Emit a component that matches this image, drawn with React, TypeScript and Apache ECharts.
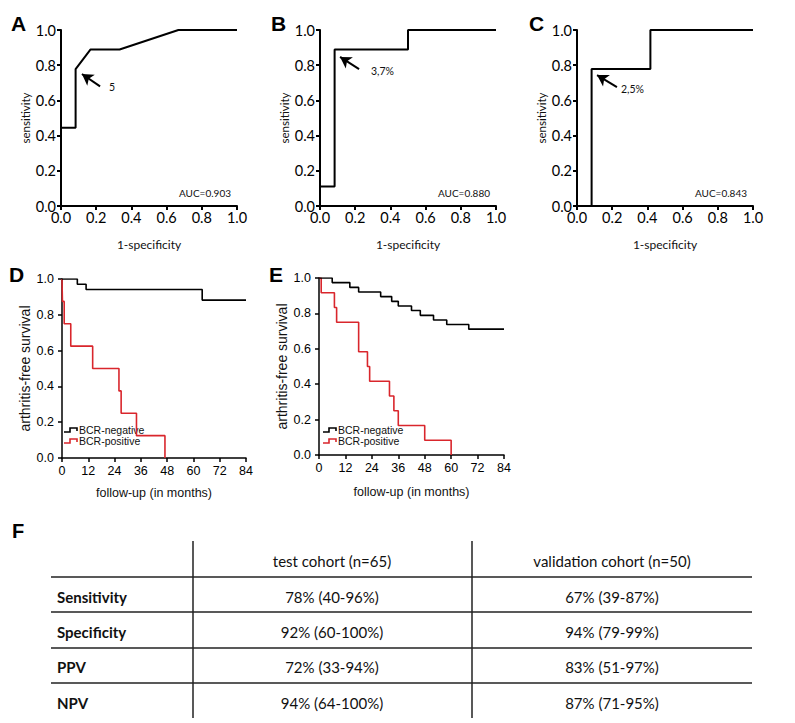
import React, { useEffect, useRef } from "react";
import * as echarts from "echarts";

// ROC curves (1-specificity, sensitivity)
const rocA_fpr = [0, 0, 0.083, 0.083, 0.167, 0.333, 0.667, 1];
const rocA_tpr = [0, 0.444, 0.444, 0.778, 0.889, 0.889, 1, 1];
const rocB_fpr = [0, 0, 0.083, 0.083, 0.5, 0.5, 1];
const rocB_tpr = [0, 0.111, 0.111, 0.889, 0.889, 1, 1];
const rocC_fpr = [0, 0.083, 0.083, 0.417, 0.417, 1];
const rocC_tpr = [0, 0, 0.778, 0.778, 1, 1];
const rocTicks = [0, 0.2, 0.4, 0.6, 0.8, 1.0];
const aucLabels = ["AUC=0.903", "AUC=0.880", "AUC=0.843"];
const cutoffLabels = ["5", "3,7%", "2,5%"];

// Kaplan-Meier curves (months, arthritis-free survival)
const negTimesD = [7, 11, 64];
const negSurvD = [0.971, 0.941, 0.882];
const posTimesD = [0.2, 1, 4, 14, 26, 27, 34, 47];
const posSurvD = [0.875, 0.75, 0.625, 0.5, 0.375, 0.25, 0.125, 0];
const negTimesE = [6, 14, 18, 28, 33, 36, 42, 46, 52, 58, 68];
const negSurvE = [0.974, 0.947, 0.921, 0.895, 0.868, 0.842, 0.816, 0.789, 0.763, 0.737, 0.711];
const posTimesE = [1, 7, 8, 18, 22, 23, 32, 34, 36, 48, 60];
const posSurvE = [0.917, 0.833, 0.75, 0.583, 0.5, 0.417, 0.333, 0.25, 0.167, 0.083, 0];
const followUpEnd = 84;
const seriesNames = ["BCR-negative", "BCR-positive"];

// Table F
const tableHeader = ["", "test cohort (n=65)", "validation cohort (n=50)"];
const tableRows = ["Sensitivity", "Specificity", "PPV", "NPV"];
const testCohort = ["78% (40-96%)", "92% (60-100%)", "72% (33-94%)", "94% (64-100%)"];
const validationCohort = ["67% (39-87%)", "94% (79-99%)", "83% (51-97%)", "87% (71-95%)"];

const RED = "#d9262c";
const LATO = "Lato, 'Open Sans', sans-serif";
const ARIAL = "'Liberation Sans', Arial, sans-serif";

function zip(xs: number[], ys: number[]) {
  return xs.map((x, i) => [x, ys[i]]);
}

function km(times: number[], surv: number[], end?: number) {
  const pts: number[][] = [[0, 1]];
  let prev = 1;
  times.forEach((t, i) => {
    pts.push([t, prev]);
    pts.push([t, surv[i]]);
    prev = surv[i];
  });
  if (end !== undefined) pts.push([end, prev]);
  return pts;
}

const rocGrids = [
  { left: 61, top: 30, width: 176, height: 176 },
  { left: 320, top: 30, width: 176, height: 176 },
  { left: 577, top: 30, width: 176, height: 176 },
];
const kmGrids = [
  { left: 62, top: 279, width: 184, height: 179 },
  { left: 319, top: 278, width: 185, height: 177 },
];

export default function App() {
  const ref = useRef<HTMLDivElement>(null);
  useEffect(() => {
    if (!ref.current) return;
    const chart = echarts.init(ref.current, undefined, { renderer: "svg" });

    const rocAxisCommon = {
      min: 0,
      max: 1,
      interval: 0.2,
      axisLine: { show: true, onZero: false, lineStyle: { color: "#000", width: 2 } },
      axisTick: { show: true, length: 4, lineStyle: { color: "#000", width: 2 } },
      splitLine: { show: false },
      axisLabel: {
        color: "#000",
        fontFamily: LATO,
        fontSize: 14.5,
        formatter: (v: number) => v.toFixed(1),
      },
    };
    const kmAxisLine = { show: true, onZero: false, lineStyle: { color: "#000", width: 1.5 } };
    const kmTick = { show: true, length: 4, lineStyle: { color: "#000", width: 1.5 } };

    const grids = [...rocGrids, ...kmGrids].map((g) => ({ ...g, containLabel: false }));

    const xAxes: any[] = [];
    const yAxes: any[] = [];
    for (let i = 0; i < 3; i++) {
      xAxes.push({
        ...rocAxisCommon,
        type: "value",
        gridIndex: i,
        axisLabel: { ...rocAxisCommon.axisLabel, margin: 4 },
        name: "1-specificity",
        nameLocation: "middle",
        nameGap: 32,
        nameTextStyle: { fontFamily: LATO, fontSize: 12, color: "#111" },
      });
      yAxes.push({
        ...rocAxisCommon,
        type: "value",
        gridIndex: i,
        axisLabel: { ...rocAxisCommon.axisLabel, margin: 5 },
        name: "sensitivity",
        nameLocation: "middle",
        nameGap: 28,
        nameTextStyle: { fontFamily: LATO, fontSize: 11.5, color: "#111" },
      });
    }
    for (let i = 0; i < 2; i++) {
      xAxes.push({
        type: "value",
        gridIndex: 3 + i,
        min: 0,
        max: 84,
        interval: 12,
        axisLine: kmAxisLine,
        axisTick: kmTick,
        splitLine: { show: false },
        axisLabel: { color: "#000", fontFamily: ARIAL, fontSize: 12.5, margin: 6 },
        name: "follow-up (in months)",
        nameLocation: "middle",
        nameGap: i === 0 ? 28 : 30,
        nameTextStyle: { fontFamily: ARIAL, fontSize: 12.5, color: "#111" },
      });
      yAxes.push({
        type: "value",
        gridIndex: 3 + i,
        min: 0,
        max: 1,
        interval: 0.2,
        axisLine: kmAxisLine,
        axisTick: kmTick,
        splitLine: { show: false },
        axisLabel: {
          color: "#000",
          fontFamily: ARIAL,
          fontSize: 12.5,
          margin: 8,
          formatter: (v: number) => v.toFixed(1),
        },
        name: "arthritis-free survival",
        nameLocation: "middle",
        nameGap: 30,
        nameTextStyle: { fontFamily: ARIAL, fontSize: 14, color: "#111" },
      });
    }

    const arrows = [
      { from: [0.222, 0.68], to: [0.119, 0.75] },
      { from: [0.222, 0.778], to: [0.114, 0.847] },
      { from: [0.227, 0.676], to: [0.114, 0.744] },
    ];
    const rocData = [zip(rocA_fpr, rocA_tpr), zip(rocB_fpr, rocB_tpr), zip(rocC_fpr, rocC_tpr)];

    const series: any[] = rocData.map((d, i) => ({
      type: "line",
      xAxisIndex: i,
      yAxisIndex: i,
      data: d,
      showSymbol: false,
      lineStyle: { color: "#000", width: 2 },
      itemStyle: { color: "#000" },
      silent: true,
      markLine: {
        silent: true,
        symbol: ["none", "arrow"],
        symbolSize: [10, 11],
        lineStyle: { color: "#000", width: 2, type: "solid" },
        label: { show: false },
        data: [[{ coord: arrows[i].from }, { coord: arrows[i].to }]],
      },
    }));

    const kmSets = [
      { neg: km(negTimesD, negSurvD, followUpEnd), pos: km(posTimesD, posSurvD) },
      { neg: km(negTimesE, negSurvE, followUpEnd), pos: km(posTimesE, posSurvE) },
    ];
    kmSets.forEach((s, i) => {
      series.push({
        type: "line",
        name: seriesNames[0],
        xAxisIndex: 3 + i,
        yAxisIndex: 3 + i,
        data: s.neg,
        showSymbol: false,
        lineStyle: { color: "#000", width: 1.6 },
        itemStyle: { color: "#000" },
        silent: true,
        z: 3,
      });
      series.push({
        type: "line",
        name: seriesNames[1],
        xAxisIndex: 3 + i,
        yAxisIndex: 3 + i,
        data: s.pos,
        showSymbol: false,
        lineStyle: { color: RED, width: 1.6 },
        itemStyle: { color: RED },
        silent: true,
        z: 2,
      });
    });

    const graphic: any[] = [];
    const letter = (t: string, x: number, y: number, size = 21) =>
      graphic.push({
        type: "text",
        x,
        y,
        style: {
          text: t,
          fontFamily: ARIAL,
          fontWeight: "bold",
          fontSize: size,
          fill: "#000",
          textVerticalAlign: "middle",
        },
      });
    letter("A", 11, 23);
    letter("B", 271, 23);
    letter("C", 529, 23);
    letter("D", 9, 274);
    letter("E", 269, 274);
    letter("F", 12, 531, 20);

    // ROC annotations
    const cutoffPos = [
      [109, 87],
      [371, 71],
      [621, 89],
    ];
    cutoffLabels.forEach((t, i) =>
      graphic.push({
        type: "text",
        x: cutoffPos[i][0],
        y: cutoffPos[i][1],
        style: { text: t, fontFamily: LATO, fontSize: 10.5, fill: "#111", textVerticalAlign: "middle" },
      })
    );
    aucLabels.forEach((t, i) =>
      graphic.push({
        type: "text",
        x: rocGrids[i].left + rocGrids[i].width - 6,
        y: 193,
        style: {
          text: t,
          fontFamily: LATO,
          fontSize: 10,
          fill: "#111",
          textAlign: "right",
          textVerticalAlign: "middle",
        },
      })
    );

    // KM legends
    const legendOrigins = [
      [64, 430],
      [323, 430],
    ];
    legendOrigins.forEach(([lx, ly]) => {
      [0, 1].forEach((k) => {
        const y = ly + k * 11;
        graphic.push({
          type: "polyline",
          shape: {
            points: [
              [lx, y + 2],
              [lx + 6, y + 2],
              [lx + 6, y - 2],
              [lx + 13, y - 2],
              [lx + 13, y + 1],
            ],
          },
          style: { stroke: k === 0 ? "#000" : RED, lineWidth: 1.6, fill: "none" },
        });
        graphic.push({
          type: "text",
          x: lx + 15,
          y,
          style: {
            text: seriesNames[k],
            fontFamily: ARIAL,
            fontSize: 10.5,
            fill: "#111",
            textVerticalAlign: "middle",
          },
        });
      });
    });

    // Table F
    const tLeft = 51;
    const tRight = 752;
    const colX = [193, 472];
    const hLines = [577, 612, 648, 683];
    const colCenters = [332, 612];
    const headerY = 561;
    const rowY = [597, 632, 667, 703];
    hLines.forEach((y) =>
      graphic.push({
        type: "line",
        shape: { x1: tLeft, y1: y, x2: tRight, y2: y },
        style: { stroke: "#222", lineWidth: 1.5 },
      })
    );
    colX.forEach((x) =>
      graphic.push({
        type: "line",
        shape: { x1: x, y1: 541, x2: x, y2: 718 },
        style: { stroke: "#222", lineWidth: 1.5 },
      })
    );
    tableHeader.slice(1).forEach((t, i) =>
      graphic.push({
        type: "text",
        x: colCenters[i],
        y: headerY,
        style: { text: t, fontFamily: LATO, fontSize: 15, fill: "#111", textAlign: "center", textVerticalAlign: "middle" },
      })
    );
    tableRows.forEach((t, r) => {
      graphic.push({
        type: "text",
        x: 57,
        y: rowY[r],
        style: { text: t, fontFamily: LATO, fontWeight: "bold", fontSize: 15, fill: "#111", textVerticalAlign: "middle" },
      });
      [testCohort[r], validationCohort[r]].forEach((v, c) =>
        graphic.push({
          type: "text",
          x: colCenters[c],
          y: rowY[r],
          style: { text: v, fontFamily: LATO, fontSize: 15, fill: "#111", textAlign: "center", textVerticalAlign: "middle" },
        })
      );
    });

    chart.setOption({
      animation: false,
      backgroundColor: "#fff",
      grid: grids,
      xAxis: xAxes,
      yAxis: yAxes,
      series,
      graphic,
    });
    return () => chart.dispose();
  }, []);

  return (
    <div
      ref={ref}
      style={{ position: "absolute", left: 0, top: 0, width: 795, height: 723, background: "#fff" }}
    />
  );
}
